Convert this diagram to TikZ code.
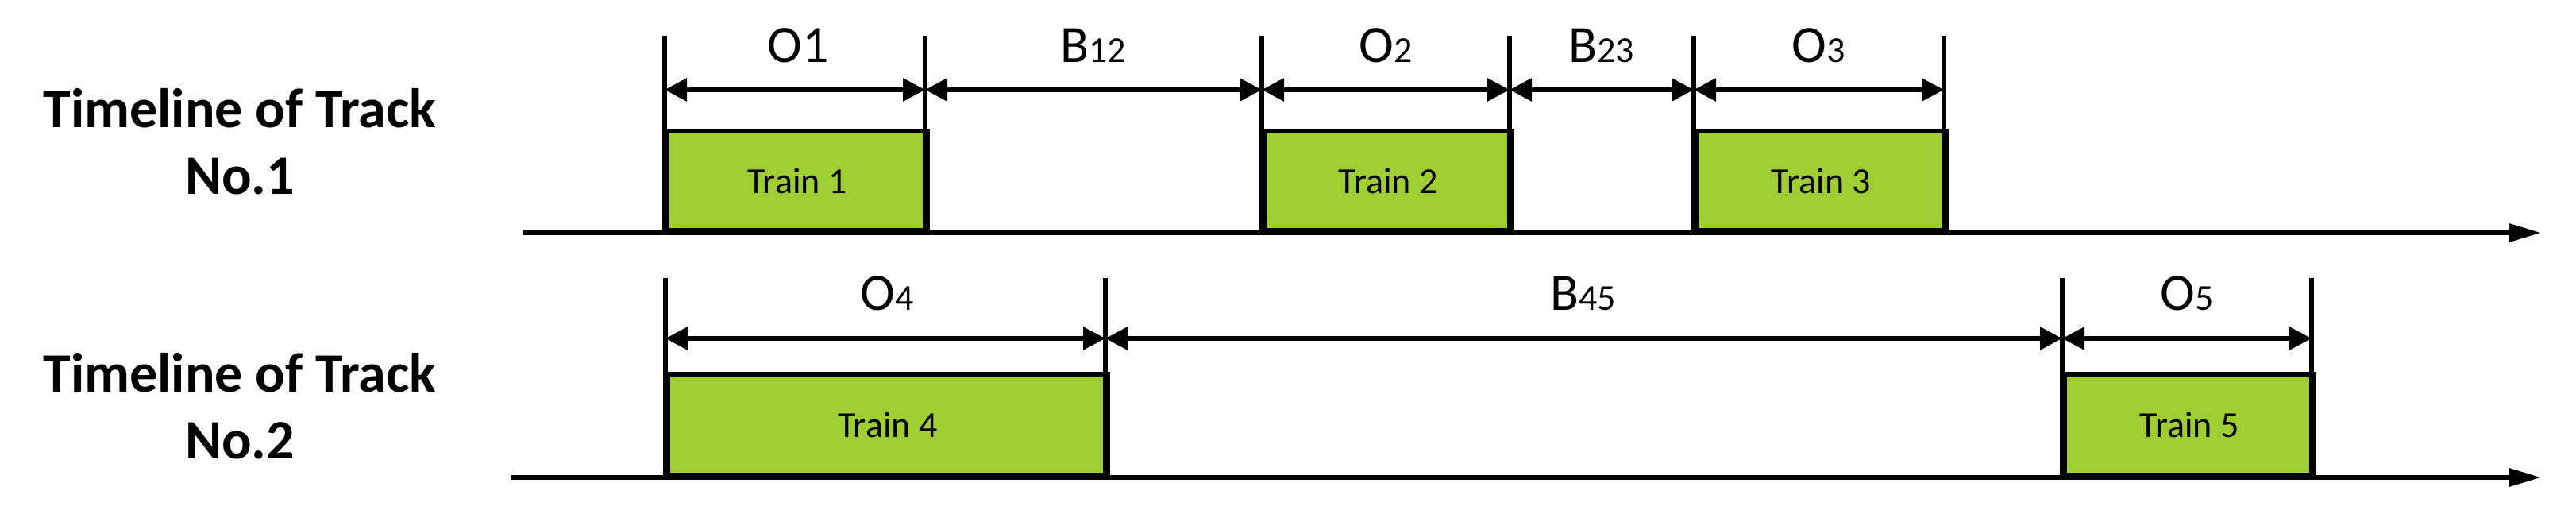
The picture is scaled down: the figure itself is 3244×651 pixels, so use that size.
\documentclass[tikz,border=0pt]{standalone}
\usepackage{fontspec}
\setmainfont{Carlito}
\usetikzlibrary{arrows.meta}
\definecolor{tg}{HTML}{9ECE34}
\newcommand\mysub[1]{{\fontsize{46}{46}\selectfont #1}}
\begin{document}
\begin{tikzpicture}[x=1pt,y=-1pt,line width=6pt,
  train/.style={draw,fill=tg,line width=6pt},
  tl/.style={font=\fontsize{46}{46}\selectfont},
  lab/.style={font=\fontsize{66}{66}\selectfont,anchor=base},
  ttl/.style={font=\fontsize{70}{84}\selectfont\bfseries,align=center},
  dim/.style={{Triangle[length=28pt,width=28pt]}-{Triangle[length=28pt,width=28pt]},line width=6pt}]
\useasboundingbox (0,0) rectangle (3244,651);
% titles
\node[ttl] (t1) at (302,178) {Timeline of Track\\No.1};
\node[ttl] (t2) at (302,511) {Timeline of Track\\No.2};
% axes
\coordinate (a1s) at (658,293); \coordinate (a1e) at (3200,293);
\coordinate (a2s) at (643,601); \coordinate (a2e) at (3200,601);
\draw[-{Triangle[length=40pt,width=22pt]}] (a1s) -- (a1e);
\draw[-{Triangle[length=40pt,width=22pt]}] (a2s) -- (a2e);
% trains track 1
\node[train,minimum width=328pt,minimum height=125pt,inner sep=0,anchor=south west] (tr1) at (837,293) {};
\node[tl] at (tr1) {Train 1};
\node[train,minimum width=312pt,minimum height=125pt,inner sep=0,anchor=south west] (tr2) at (1589,293) {};
\node[tl] at (tr2) {Train 2};
\node[train,minimum width=315pt,minimum height=125pt,inner sep=0,anchor=south west] (tr3) at (2133,293) {};
\node[tl] at (tr3) {Train 3};
% trains track 2
\node[train,minimum width=554pt,minimum height=127pt,inner sep=0,anchor=south west] (tr4) at (838,601) {};
\node[tl] at (tr4) {Train 4};
\node[train,minimum width=314pt,minimum height=127pt,inner sep=0,anchor=south west] (tr5) at (2597,601) {};
\node[tl] at (tr5) {Train 5};
% vertical lines track 1
\foreach \n/\x in {p1/837,p2/1165,p3/1589,p4/1901,p5/2133,p6/2448}{
  \coordinate (\n t) at (\x,45); \coordinate (\n b) at (\x,293); \coordinate (\n m) at (\x,113);
  \draw (\n t) -- (\n b);}
\foreach \n/\x in {q1/838,q2/1392,q3/2597,q4/2911}{
  \coordinate (\n t) at (\x,350); \coordinate (\n b) at (\x,601); \coordinate (\n m) at (\x,426);
  \draw (\n t) -- (\n b);}
% dimension arrows
\draw[dim] (p1m) -- (p2m); \draw[dim] (p2m) -- (p3m); \draw[dim] (p3m) -- (p4m);
\draw[dim] (p4m) -- (p5m); \draw[dim] (p5m) -- (p6m);
\draw[dim] (q1m) -- (q2m); \draw[dim] (q2m) -- (q3m); \draw[dim] (q3m) -- (q4m);
% labels
\node[lab] (l1) at (1005,78) {O1};
\node[lab] (l2) at (1377,78) {B\mysub{12}};
\node[lab] (l3) at (1745,78) {O\mysub{2}};
\node[lab] (l4) at (2017,78) {B\mysub{23}};
\node[lab] (l5) at (2290,78) {O\mysub{3}};
\node[lab] (l6) at (1117,390) {O\mysub{4}};
\node[lab] (l7) at (1994,390) {B\mysub{45}};
\node[lab] (l8) at (2754,390) {O\mysub{5}};
\end{tikzpicture}
\end{document}
